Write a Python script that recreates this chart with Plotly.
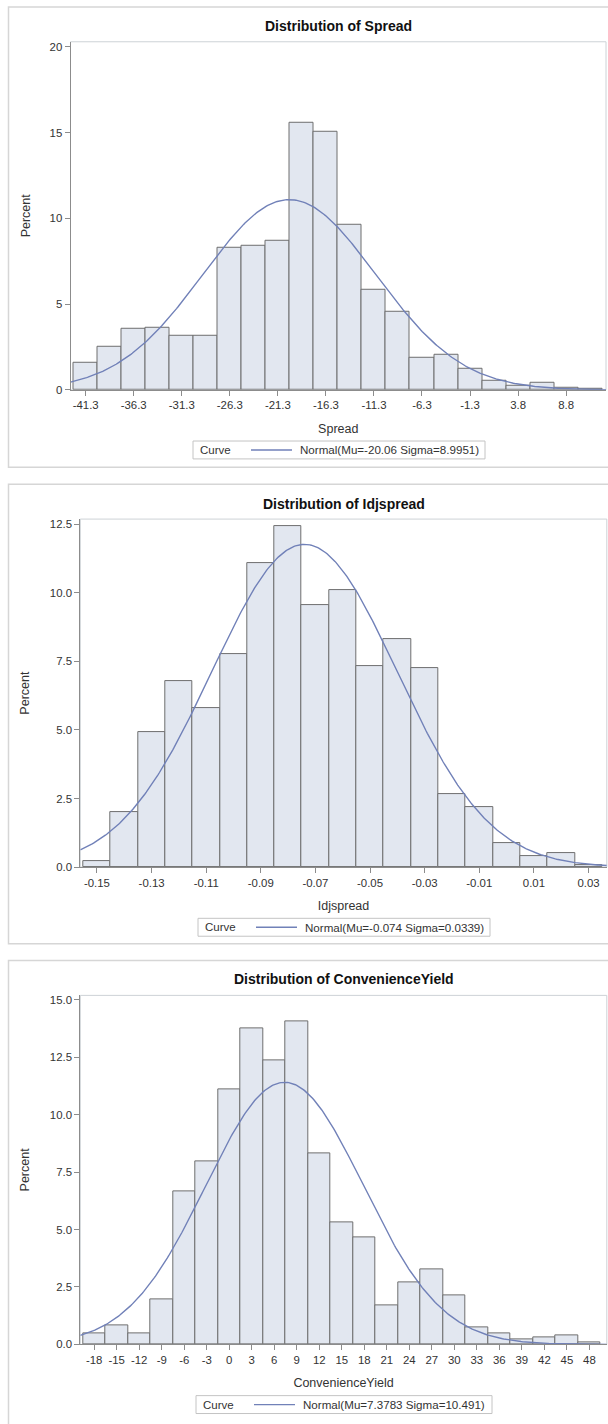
import numpy as np
import plotly.graph_objects as go

W, H = 608, 1424

# ---------------- data ----------------
spread_mid = [-41.25, -38.75, -36.25, -33.75, -31.25, -28.75, -26.25, -23.75, -21.25, -18.75,
              -16.25, -13.75, -11.25, -8.75, -6.25, -3.75, -1.25, 1.25, 3.75, 6.25, 8.75, 11.25]
spread_pct = [1.55, 2.52, 3.53, 3.59, 3.16, 3.16, 8.27, 8.37, 8.66, 15.56,
              15.06, 9.65, 5.81, 4.53, 1.88, 2.07, 1.20, 0.52, 0.23, 0.43, 0.10, 0.04]
spread_ticks = [-41.25, -36.25, -31.25, -26.25, -21.25, -16.25, -11.25, -6.25, -1.25, 3.75, 8.75]
spread_ticktext = ["-41.3", "-36.3", "-31.3", "-26.3", "-21.3", "-16.3", "-11.3", "-6.3", "-1.3", "3.8", "8.8"]
spread_mu, spread_sigma, spread_bw = -20.06, 8.9951, 2.5

idj_mid = [-0.15, -0.14, -0.13, -0.12, -0.11, -0.10, -0.09, -0.08, -0.07, -0.06,
           -0.05, -0.04, -0.03, -0.02, -0.01, 0.00, 0.01, 0.02, 0.03]
idj_pct = [0.21, 2.00, 4.94, 6.80, 5.81, 7.77, 11.07, 12.43, 9.55, 10.09,
           7.32, 8.31, 7.27, 2.66, 2.18, 0.88, 0.40, 0.52, 0.09]
idj_ticks = [-0.15, -0.13, -0.11, -0.09, -0.07, -0.05, -0.03, -0.01, 0.01, 0.03]
idj_ticktext = ["-0.15", "-0.13", "-0.11", "-0.09", "-0.07", "-0.05", "-0.03", "-0.01", "0.01", "0.03"]
idj_mu, idj_sigma, idj_bw = -0.074, 0.0339, 0.01

cy_mid = [-18, -15, -12, -9, -6, -3, 0, 3, 6, 9, 12, 15, 18, 21, 24, 27, 30, 33, 36, 39, 42, 45, 48]
cy_pct = [0.46, 0.85, 0.46, 1.94, 6.64, 7.97, 11.08, 13.76, 12.37, 14.05, 8.33, 5.31,
          4.66, 1.72, 2.69, 3.25, 2.15, 0.76, 0.46, 0.24, 0.32, 0.39, 0.11]
cy_ticks = [-18, -15, -12, -9, -6, -3, 0, 3, 6, 9, 12, 15, 18, 21, 24, 27, 30, 33, 36, 39, 42, 45, 48]
cy_ticktext = ["-18", "-15", "-12", "-9", "-6", "-3", "0", "3", "6", "9", "12", "15", "18",
               "21", "24", "27", "30", "33", "36", "39", "42", "45", "48"]
cy_mu, cy_sigma, cy_bw = 7.3783, 10.491, 3.0

# ---------------- style ----------------
FONT = "Liberation Sans, Arial, sans-serif"
BAR_FILL = "#E2E7F0"
BAR_LINE = "#6E6E6E"
CURVE = "#7181B8"
AXIS = "#8C8C8C"
FRAME = "#CDD2D6"
PANEL = "#D6D6D6"
TXT = "#333333"


def px(x):
    return x / W


def py(y):
    return 1 - y / H


# panel top offsets: 5, 485, 964 ; each panel same internal layout
panels = [
    dict(name="Spread", title="Distribution of Spread", mid=spread_mid, pct=spread_pct,
         ticks=spread_ticks, ticktext=spread_ticktext, mu=spread_mu, sigma=spread_sigma, bw=spread_bw,
         legendtext="Normal(Mu=-20.06 Sigma=8.9951)",
         xdom=(70.5, 606), ydom=(40, 390), xr=(-42.83, 12.9), yr=(0, 20.29),
         yt=[0, 5, 10, 15, 20], yfmt="d", title_y=24, leg_y=450.5, leg=(193, 485), box=(5, 468),
         ystand=16),
    dict(name="Idjspread", title="Distribution of Idjspread", mid=idj_mid, pct=idj_pct,
         ticks=idj_ticks, ticktext=idj_ticktext, mu=idj_mu, sigma=idj_sigma, bw=idj_bw,
         legendtext="Normal(Mu=-0.074 Sigma=0.0339)",
         xdom=(80.3, 606.8), ydom=(520, 870), xr=(-0.1561, 0.0367), yr=(0, 12.69),
         yt=[0, 2.5, 5, 7.5, 10, 12.5], yfmt=".1f", title_y=505, leg_y=930.5, leg=(198, 490), box=(485, 947),
         ystand=17),
    dict(name="ConvenienceYield", title="Distribution of ConvenienceYield", mid=cy_mid, pct=cy_pct,
         ticks=cy_ticks, ticktext=cy_ticktext, mu=cy_mu, sigma=cy_sigma, bw=cy_bw,
         legendtext="Normal(Mu=7.3783 Sigma=10.491)",
         xdom=(80.3, 606.8), ydom=(999, 1350), xr=(-19.85, 50.32), yr=(0, 15.19),
         yt=[0, 2.5, 5, 7.5, 10, 12.5, 15], yfmt=".1f", title_y=983, leg_y=1410.5, leg=(196, 492), box=(964, 1440),
         ystand=17),
]

fig = go.Figure()
shapes = []
annotations = []
layout = {}

for i, p in enumerate(panels):
    k = "" if i == 0 else str(i + 1)
    xa, ya = "x" + k, "y" + k

    fig.add_trace(go.Bar(
        x=p["mid"], y=p["pct"], width=p["bw"], xaxis=xa, yaxis=ya,
        marker=dict(color=BAR_FILL, line=dict(color=BAR_LINE, width=1)),
        showlegend=False, name=p["name"], hoverinfo="x+y"))

    xs = np.linspace(p["xr"][0], p["xr"][1], 400)
    ys = 100 * p["bw"] * np.exp(-0.5 * ((xs - p["mu"]) / p["sigma"]) ** 2) / (p["sigma"] * np.sqrt(2 * np.pi))
    fig.add_trace(go.Scatter(
        x=xs, y=ys, mode="lines", xaxis=xa, yaxis=ya,
        line=dict(color=CURVE, width=1.4), name=p["legendtext"], showlegend=False))

    layout["xaxis" + k] = dict(
        domain=[px(p["xdom"][0]), px(p["xdom"][1])], range=list(p["xr"]), anchor=ya,
        tickvals=p["ticks"], ticktext=p["ticktext"], ticks="outside", ticklen=5,
        tickcolor=AXIS, showline=True, linecolor=AXIS, linewidth=1, showgrid=False, zeroline=False,
        tickfont=dict(size=11.4, color=TXT, family=FONT),
        title=dict(text=p["name"], font=dict(size=12.5, color=TXT, family=FONT), standoff=13))
    layout["yaxis" + k] = dict(
        domain=[py(p["ydom"][1]), py(p["ydom"][0])], range=list(p["yr"]), anchor=xa,
        tickvals=p["yt"], tickformat=p["yfmt"], ticks="outside", ticklen=5,
        tickcolor=AXIS, showline=True, linecolor=AXIS, linewidth=1, showgrid=False, zeroline=False,
        tickfont=dict(size=11.4, color=TXT, family=FONT),
        title=dict(text="Percent", font=dict(size=12.5, color=TXT, family=FONT), standoff=p["ystand"]))

    # plot wall frame
    shapes.append(dict(type="rect", xref=xa + " domain", yref=ya + " domain",
                       x0=0, x1=1, y0=0, y1=1, line=dict(color=FRAME, width=1), layer="below"))
    # panel border
    shapes.append(dict(type="rect", xref="paper", yref="paper",
                       x0=px(8.5), x1=px(640), y0=py(p["box"][1]), y1=py(p["box"][0]),
                       line=dict(color=PANEL, width=1.5), layer="below"))
    # title
    annotations.append(dict(
        text="<b>" + p["title"] + "</b>", xref="paper", yref="paper",
        x=px((p["xdom"][0] + p["xdom"][1]) / 2), y=py(p["title_y"]),
        xanchor="center", yanchor="middle", showarrow=False,
        font=dict(size=14, color="#111111", family=FONT)))
    # legend box
    lx0, lx1 = p["leg"]
    ly = p["leg_y"]
    shapes.append(dict(type="rect", xref="paper", yref="paper",
                       x0=px(lx0), x1=px(lx1), y0=py(ly + 9), y1=py(ly - 9),
                       line=dict(color="#C4C4C4", width=1), fillcolor="white"))
    shapes.append(dict(type="line", xref="paper", yref="paper",
                       x0=px(lx0 + 58), x1=px(lx0 + 99), y0=py(ly), y1=py(ly),
                       line=dict(color=CURVE, width=1.4)))
    annotations.append(dict(
        text="Curve", xref="paper", yref="paper", x=px(lx0 + 5), y=py(ly),
        xanchor="left", yanchor="middle", showarrow=False,
        font=dict(size=11.5, color=TXT, family=FONT)))
    annotations.append(dict(
        text=p["legendtext"], xref="paper", yref="paper", x=px(lx0 + 105), y=py(ly),
        xanchor="left", yanchor="middle", showarrow=False,
        font=dict(size=11.6, color=TXT, family=FONT)))

fig.update_layout(
    width=W, height=H, margin=dict(l=0, r=0, t=0, b=0),
    paper_bgcolor="white", plot_bgcolor="white",
    font=dict(family=FONT, color=TXT), bargap=0, showlegend=False,
    shapes=shapes, annotations=annotations, **layout)

fig.write_html("out.html", config={"displayModeBar": False},
               post_script="document.body.style.margin='0px';")
